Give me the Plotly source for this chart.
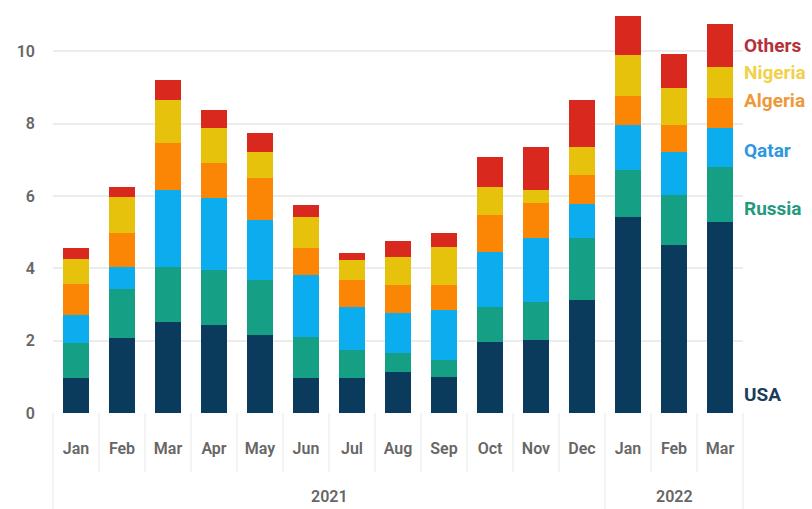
import plotly.graph_objects as go

# LNG imports by origin, monthly (stacked), 2021 - Mar 2022
years = ["2021"] * 12 + ["2022"] * 3
months = ["Jan", "Feb", "Mar", "Apr", "May", "Jun", "Jul", "Aug", "Sep",
          "Oct", "Nov", "Dec", "Jan", "Feb", "Mar"]

usa = [0.96, 2.07, 2.51, 2.43, 2.15, 0.97, 0.97, 1.13, 1.00, 1.96, 2.02, 3.12, 5.41, 4.64, 5.28]
russia = [0.97, 1.35, 1.52, 1.52, 1.52, 1.13, 0.77, 0.53, 0.46, 0.97, 1.05, 1.71, 1.30, 1.38, 1.52]
qatar = [0.77, 0.63, 2.13, 1.99, 1.66, 1.71, 1.19, 1.10, 1.39, 1.52, 1.76, 0.94, 1.25, 1.19, 1.07]
algeria = [0.88, 0.94, 1.30, 0.97, 1.16, 0.75, 0.74, 0.78, 0.69, 1.02, 0.97, 0.80, 0.82, 0.75, 0.83]
nigeria = [0.69, 0.97, 1.19, 0.96, 0.72, 0.85, 0.56, 0.77, 1.05, 0.77, 0.36, 0.78, 1.11, 1.02, 0.86]
others = [0.30, 0.28, 0.55, 0.50, 0.52, 0.34, 0.19, 0.44, 0.38, 0.83, 1.19, 1.30, 1.10, 0.96, 1.21]

y_ticks = [0, 2, 4, 6, 8, 10]

# name, values, bar colour, label colour, label height (data units)
series = [
    ("USA", usa, "#0a3a5c", "#1d3d5c", 0.5),
    ("Russia", russia, "#15a085", "#239a80", 5.66),
    ("Qatar", qatar, "#0badee", "#2f96e0", 7.27),
    ("Algeria", algeria, "#fb8504", "#ef983a", 8.65),
    ("Nigeria", nigeria, "#e6c20c", "#f0d24a", 9.42),
    ("Others", others, "#d9291f", "#b5313a", 10.17),
]

FONT = "Roboto, sans-serif"
TICK_COLOR = "#666666"
SEP_COLOR = "#e8e8e8"

# one unique category per month, labelled by month name only
keys = [f"{m} {y}" for m, y in zip(months, years)]
n = len(keys)

fig = go.Figure()
for name, vals, color, _, _ in series:
    fig.add_trace(go.Bar(
        x=keys, y=vals, name=name,
        marker=dict(color=color, line=dict(width=0)),
        showlegend=False,
    ))

# series labels on the right, beside the last bar
for name, _, _, label_color, label_y in series:
    fig.add_annotation(
        x=1, xref="paper", xanchor="left", xshift=-1,
        y=label_y, yref="y", yanchor="middle",
        text=f"<b>{name}</b>", showarrow=False,
        font=dict(family=FONT, size=19, color=label_color),
    )

# separators between month labels
for i in range(n + 1):
    fig.add_shape(
        type="line", xref="paper", yref="paper",
        x0=i / n, x1=i / n, y0=0, y1=-0.146,
        line=dict(color=SEP_COLOR, width=1),
    )

# year groups: centred labels and dividers running to the bottom edge
group_edges = [0]
for i in range(1, n):
    if years[i] != years[i - 1]:
        group_edges.append(i)
group_edges.append(n)
for a, b in zip(group_edges[:-1], group_edges[1:]):
    fig.add_annotation(
        x=(a + b - 1) / 2, xref="x", y=-0.207, yref="paper",
        yanchor="middle", text=years[a], showarrow=False,
        font=dict(family=FONT, size=16, color=TICK_COLOR, weight=600),
    )
for e in group_edges:
    fig.add_shape(
        type="line", xref="paper", yref="paper",
        x0=e / n, x1=e / n, y0=-0.146, y1=-0.24,
        line=dict(color=SEP_COLOR, width=1),
    )

fig.update_layout(
    width=812, height=509,
    margin=dict(l=53, r=69, t=8, b=96),
    barmode="stack", bargap=0.42,
    plot_bgcolor="white", paper_bgcolor="white",
    font=dict(family=FONT, size=16, color=TICK_COLOR),
)
fig.update_xaxes(
    type="category", tickvals=keys, ticktext=months,
    showgrid=False, ticks="", ticklabelstandoff=24,
    showline=False,
    tickfont=dict(family=FONT, size=16, color=TICK_COLOR, weight=600),
)
fig.update_yaxes(
    range=[0, 11.2], tickvals=y_ticks,
    showgrid=True, gridcolor="#ececec", gridwidth=1.5,
    zeroline=False, ticks="", ticklabelstandoff=17,
    tickfont=dict(family=FONT, size=16, color=TICK_COLOR, weight=600),
)

fig.write_html("out.html")
